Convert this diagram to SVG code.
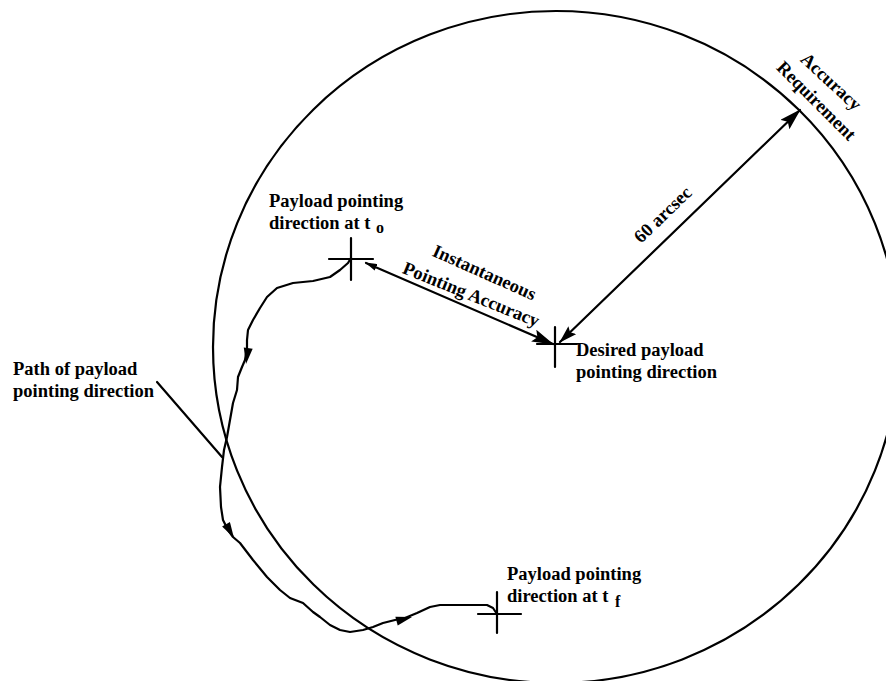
<svg xmlns="http://www.w3.org/2000/svg" xmlns:xlink="http://www.w3.org/1999/xlink" width="886" height="681" viewBox="0 0 886 681">
  <style>
    .ln { fill: none; stroke: #000; stroke-width: 2.2; stroke-linecap: round; stroke-linejoin: round; }
    .lbl { font-family: "Liberation Serif", "Times New Roman", serif; font-weight: bold; font-size: 18.5px; fill: #000; }
    .sub { font-size: 16px; }
  </style>
  <defs>
    <marker id="headL" viewBox="0 0 22 13" refX="21" refY="6.5" markerWidth="22" markerHeight="13" markerUnits="userSpaceOnUse" orient="auto-start-reverse">
      <path d="M0,0 L22,6.5 L0,13 L4,6.5 z" fill="#000"/>
    </marker>
    <marker id="headM" viewBox="0 0 18 11" refX="17" refY="5.5" markerWidth="18" markerHeight="11" markerUnits="userSpaceOnUse" orient="auto-start-reverse">
      <path d="M0,0 L18,5.5 L0,11 L3,5.5 z" fill="#000"/>
    </marker>
    <marker id="headS" viewBox="0 0 12 7" refX="11" refY="3.5" markerWidth="12" markerHeight="7" markerUnits="userSpaceOnUse" orient="auto-start-reverse">
      <path d="M0,0 L12,3.5 L0,7 z" fill="#000"/>
    </marker>
    <polygon id="tri" points="0,0 -16,-4.5 -16,4.5" fill="#000"/>
  </defs>

  <!-- accuracy requirement boundary -->
  <g id="boundary">
    <ellipse cx="556" cy="347" rx="343" ry="336" fill="none" stroke="#000" stroke-width="2.2"/>
  </g>

  <!-- pointing direction at t0 -->
  <g id="point-t0">
    <path class="ln" d="M351,238 V280 M329,259 H373"/>
    <text class="lbl" x="269" y="207">Payload pointing</text>
    <text class="lbl" x="269" y="229">direction at t<tspan class="sub" x="376" y="233">o</tspan></text>
  </g>

  <!-- desired pointing direction -->
  <g id="point-desired">
    <path class="ln" d="M555,327 V367 M537,344 H577"/>
    <text class="lbl" x="576" y="356">Desired payload</text>
    <text class="lbl" x="576" y="378">pointing direction</text>
  </g>

  <!-- pointing direction at tf -->
  <g id="point-tf">
    <path class="ln" d="M497,592 V633 M478,614 H521"/>
    <text class="lbl" x="507" y="580">Payload pointing</text>
    <text class="lbl" x="507" y="602">direction at t<tspan class="sub" x="615" y="607">f</tspan></text>
  </g>

  <!-- labels -->
  <g id="label-path">
    <text class="lbl" x="13" y="375">Path of payload</text>
    <text class="lbl" x="13" y="397">pointing direction</text>
  </g>
  <g id="label-instant">
    <text class="lbl" text-anchor="middle" transform="translate(482,278) rotate(24)">Instantaneous</text>
    <text class="lbl" text-anchor="middle" transform="translate(469,300) rotate(22)">Pointing Accuracy</text>
  </g>
  <g id="label-60">
    <text class="lbl" text-anchor="middle" transform="translate(667,219) rotate(-44)">60 arcsec</text>
  </g>
  <g id="label-req">
    <text class="lbl" text-anchor="middle" transform="translate(827,86) rotate(43)">Accuracy</text>
    <text class="lbl" text-anchor="middle" transform="translate(812,105) rotate(45)">Requirement</text>
  </g>

  <!-- connectors -->
  <g id="connectors">
    <line class="ln" x1="366" y1="263" x2="553" y2="344" marker-start="url(#headS)" marker-end="url(#headL)"/>
    <line class="ln" x1="560" y1="342" x2="800" y2="110" marker-start="url(#headM)" marker-end="url(#headL)"/>
    <line class="ln" x1="157" y1="382" x2="222" y2="457"/>
    <path class="ln" d="M351,258 L348,263 L340,270 L330,277 L313,281 L293,283 L277,288 L267,297 L260,308 L253,320 L248,330 L247,340 L247,348 L245,360 L242,367 L238,377 L237,390 L233,403 L230,420 L227,437 L224,450 L222,467 L220,487 L221,507 L223,520 L228,530 L233,537 L240,543 L253,560 L267,577 L280,590 L290,598 L303,603 L313,612 L320,617 L330,625 L340,630 L350,632 L363,630 L373,627 L383,623 L395,620 L405,618 L417,613 L430,607 L440,605 L487,605 L493,608 L497,614"/>
    <use xlink:href="#tri" transform="translate(246,364) rotate(98)"/>
    <use xlink:href="#tri" transform="translate(234,538) rotate(60)"/>
    <use xlink:href="#tri" transform="translate(412,617) rotate(-15)"/>
  </g>
</svg>
